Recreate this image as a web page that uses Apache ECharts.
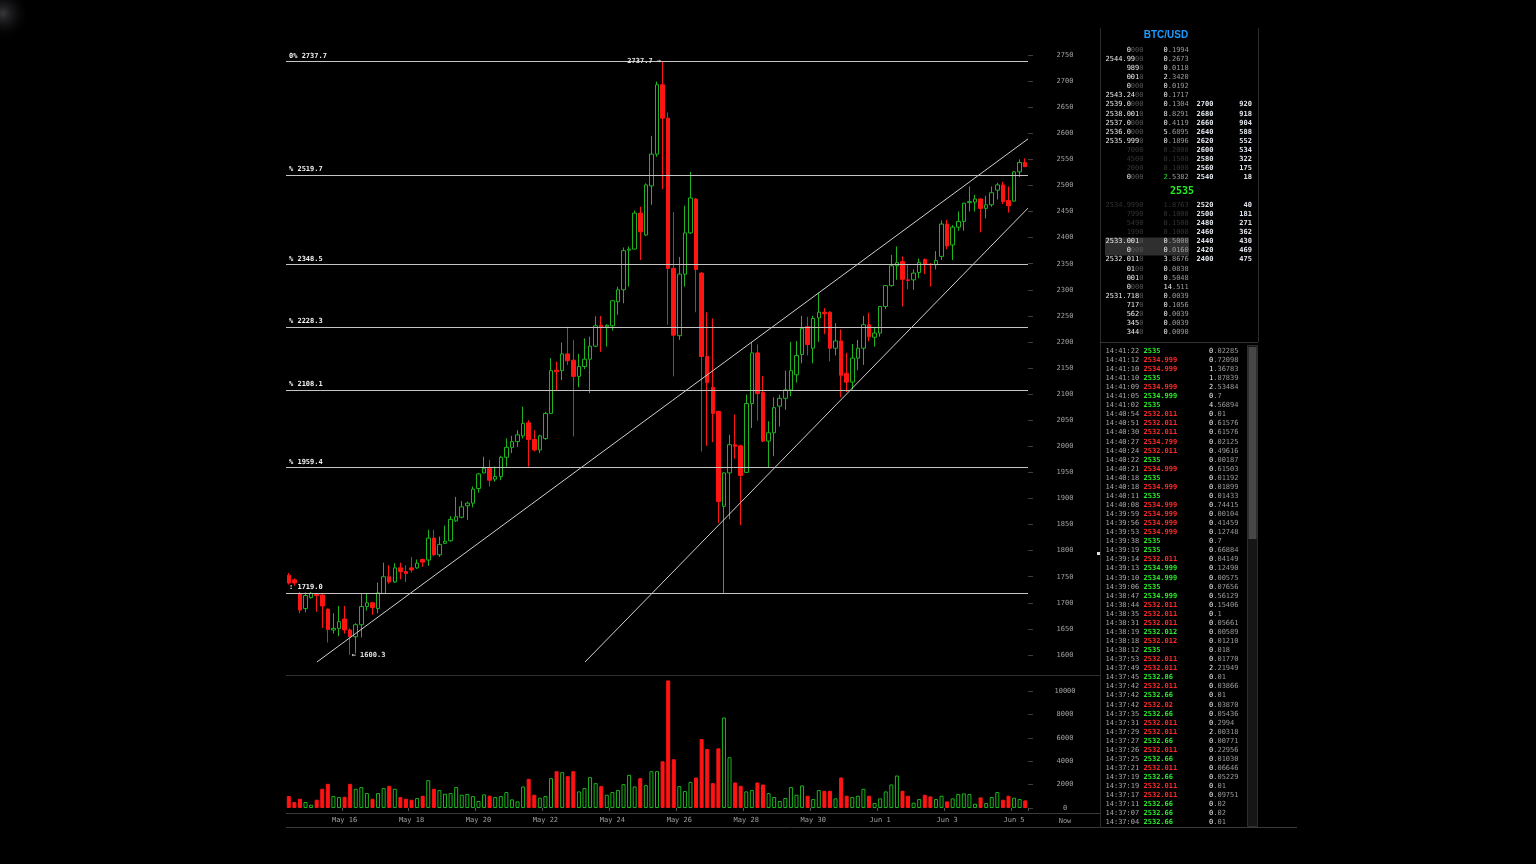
<!DOCTYPE html>
<html><head><meta charset="utf-8">
<script src="https://cdn.jsdelivr.net/npm/echarts@6/dist/echarts.min.js"></script>
<style>html,body{margin:0;padding:0;background:#000;width:1536px;height:864px;overflow:hidden}#c{width:1536px;height:864px}</style>
</head><body><div id="c"></div><script>
// ---- candle data (4h candles, BTC/USD) ----
const open = [1753,1744,1718,1689,1710,1717,1715,1688,1648,1651,
 1669,1648,1635,1658,1693,1700,1689,1718,1750,1740,
 1767,1760,1767,1767,1783,1782,1824,1792,1814,1819,
 1857,1864,1886,1891,1919,1949,1958,1937,1942,1979,
 1998,2009,2020,2045,2013,1993,2015,2063,2146,2145,
 2177,2165,2134,2153,2167,2192,2232,2229,2231,2277,
 2300,2376,2378,2447,2405,2499,2560,2693,2629,2341,
 2212,2330,2409,2474,2332,2172,2113,2067,1885,1949,
 2003,2001,1950,2082,2179,2103,2010,2026,2077,2092,
 2108,2137,2176,2229,2188,2246,2257,2257,2188,2202,
 2140,2123,2169,2188,2233,2209,2217,2268,2308,2346,
 2354,2319,2319,2333,2358,2349,2348,2364,2426,2386,
 2420,2431,2467,2468,2474,2456,2463,2491,2501,2471,
 2470,2526,2544];
const close = [1738,1738,1686,1714,1718,1714,1694,1649,1651,1664,
 1648,1635,1658,1693,1700,1691,1719,1750,1740,1767,
 1760,1756,1763,1776,1778,1824,1792,1812,1818,1860,
 1865,1884,1891,1918,1947,1958,1935,1942,1979,1998,
 2009,2022,2044,2013,1993,2020,2063,2145,2143,2177,
 2164,2134,2153,2167,2192,2231,2229,2232,2279,2300,
 2375,2378,2447,2411,2501,2560,2693,2629,2341,2213,
 2330,2409,2476,2339,2172,2122,2063,1894,1949,2003,
 2000,1944,2082,2179,2101,2010,2026,2074,2092,2108,
 2145,2174,2226,2195,2245,2257,2254,2188,2202,2136,
 2123,2169,2188,2233,2210,2217,2268,2308,2346,2352,
 2320,2318,2332,2352,2349,2348,2356,2426,2384,2420,
 2431,2466,2469,2474,2456,2463,2486,2501,2469,2461,
 2526,2544,2536];
const low = [1735,1733,1680,1682,1708,1683,1652,1624,1641,1636,
 1641,1600.3,1603,1634,1685,1677,1680,1717,1737,1738,
 1745,1740,1758,1765,1769,1771,1790,1788,1813,1817,
 1855,1862,1859,1883,1911,1948,1923,1932,1935,1961,
 1987,1999,2015,1961,1990,1987,2012,2062,2107,2127,
 2156,2019,2113,2148,2102,2190,2181,2191,2222,2252,
 2274,2306,2378,2357,2403,2463,2555,2493,2233,2134,
 2204,2306,2407,2257,1990,2001,2008,1853,1719.0,1860,
 1976,1849,1949,2035,2049,2008,1960,1981,2038,2070,
 2096,2122,2159,2174,2159,2200,2215,2163,2174,2094,
 2104,2109,2146,2156,2201,2191,2210,2263,2306,2319,
 2268,2301,2300,2322,2330,2306,2339,2357,2378,2357,
 2413,2413,2450,2450,2410,2437,2459,2473,2464,2448,
 2469,2516,2535];
const high = [1757,1747,1721,1720,1721,1718,1717,1689,1680,1694,
 1694,1651,1661,1718,1718,1702,1739,1777,1772,1776,
 1777,1772,1788,1783,1785,1840,1840,1827,1848,1866,
 1903,1895,1894,1923,1949,1980,1974,1961,1982,2015,
 2020,2031,2076,2050,2031,2022,2066,2169,2162,2199,
 2229,2204,2177,2207,2210,2249,2250,2234,2280,2306,
 2381,2383,2452,2459,2504,2595,2699,2737.7,2640,2449,
 2363,2461,2526,2476,2334,2257,2245,2068,1950,2022,
 2061,2003,2099,2200,2195,2135,2048,2094,2099,2145,
 2200,2202,2250,2248,2250,2294,2265,2259,2236,2224,
 2179,2196,2204,2250,2256,2229,2269,2309,2367,2383,
 2364,2348,2339,2360,2360,2351,2374,2433,2434,2424,
 2450,2467,2498,2482,2475,2480,2498,2505,2507,2498,
 2528,2550,2552];
const volume = [1020,510,793,510,283,708,1643,2068,1020,935,
 963,2068,1643,1785,1275,793,1275,1700,1898,1643,
 935,793,708,850,1048,2380,1643,1530,1218,1275,
 1785,1133,1190,1020,595,1162,1048,935,1020,1360,
 737,567,1841,2493,1133,878,1020,2550,3145,3060,
 2720,3145,1417,1700,2635,2125,1870,1133,1360,1530,
 2040,2833,1841,2550,1955,3145,3145,3995,10907,4165,
 1870,1445,2238,2606,5893,5043,2125,5100,7734,4335,
 2181,1898,1417,1530,2181,2011,1275,935,595,850,
 1785,1133,1926,1048,765,1530,1473,1473,822,2606,
 1048,935,1048,1643,1048,425,822,1417,2011,2776,
 1473,1048,453,765,1133,992,765,1048,567,822,
 1190,1247,1190,368,907,425,935,1360,708,1048,
 878,765,652];
// first candle time (UTC) and candle step
const firstCandleUTC = Date.UTC(2017, 4, 14, 8);
const candleHours = 4;
const monthNames = ['Jan','Feb','Mar','Apr','May','Jun','Jul','Aug','Sep','Oct','Nov','Dec'];
const labelAnchorUTC = Date.UTC(2017, 4, 16); // x labels every 2 days from May 16
// axis ticks
const priceTicks = [1600,1650,1700,1750,1800,1850,1900,1950,2000,2050,2100,2150,2200,2250,2300,2350,2400,2450,2500,2550,2600,2650,2700,2750];
const volumeTicks = [0,2000,4000,6000,8000,10000];
// fibonacci levels
const fibValues = [2737.7, 2519.7, 2348.5, 2228.3, 2108.1, 1959.4, 1719.0];
const fibLabels = ['0% 2737.7', '% 2519.7', '% 2348.5', '% 2228.3', '% 2108.1', '% 1959.4', ': 1719.0'];
// trend lines [candle index, price]
const trendUpper = [[5.05, 1586.6], [132.5, 2589.2]];
const trendLower = [[53.1, 1586.6], [132.5, 2456.5]];
// order book
const askRows = [
 ['0','000','0.1994',0],['2544.99','00','0.2673',0],['989','0','0.0118',0],['001','0','2.3420',0],
 ['0','000','0.0192',0],['2543.24','00','0.1717',0],['2539.0','000','0.1304',0],['2538.001','0','8.8291',0],
 ['2537.0','000','0.4119',0],['2536.0','000','5.6895',0],['2535.999','0','0.1896',0],['','7000','0.2000',1],
 ['','4500','0.1500',1],['','2000','0.1000',1],['0','000','2.5382',2]];
const bidRows = [
 ['','2534.9990','1.8763',1],['','7990','0.1000',1],['','5490','0.1500',1],['','1990','0.1000',1],
 ['2533.001','0','0.5000',0],['0','000','0.0160',0],['2532.011','0','3.8676',0],['01','00','0.0838',0],
 ['001','0','0.5048',0],['0','000','14.511',0],['2531.718','0','0.0039',0],['717','0','0.1056',0],
 ['562','0','0.0039',0],['345','0','0.0039',0],['344','0','0.0090',0]];
const depthPrice = ['2700','2680','2660','2640','2620','2600','2580','2560','2540','2520','2500','2480','2460','2440','2420','2400'];
const depthCount = ['920','918','904','588','552','534','322','175','18','40','181','271','362','430','469','475'];
const lastPrice = '2535';
// trades: time, price, side (b = green, s = red), amount
const trades = [
 ['14:41:22','2535','b','0.02285'],['14:41:12','2534.999','s','0.72098'],['14:41:10','2534.999','s','1.36783'],
 ['14:41:10','2535','b','1.87839'],['14:41:09','2534.999','s','2.53484'],['14:41:05','2534.999','b','0.7'],
 ['14:41:02','2535','b','4.56894'],['14:40:54','2532.011','s','0.01'],['14:40:51','2532.011','s','0.61576'],
 ['14:40:30','2532.011','s','0.61576'],['14:40:27','2534.799','s','0.02125'],['14:40:24','2532.011','s','0.49616'],
 ['14:40:22','2535','b','0.00187'],['14:40:21','2534.999','s','0.61503'],['14:40:18','2535','b','0.01192'],
 ['14:40:18','2534.999','s','0.01899'],['14:40:11','2535','b','0.01433'],['14:40:08','2534.999','s','0.74415'],
 ['14:39:59','2534.999','s','0.00104'],['14:39:56','2534.999','s','0.41459'],['14:39:53','2534.999','s','0.12748'],
 ['14:39:38','2535','b','0.7'],['14:39:19','2535','b','0.66884'],['14:39:14','2532.011','s','0.04149'],
 ['14:39:13','2534.999','b','0.12490'],['14:39:10','2534.999','b','0.00575'],['14:39:06','2535','b','0.07656'],
 ['14:38:47','2534.999','b','0.56129'],['14:38:44','2532.011','s','0.15406'],['14:38:35','2532.011','s','0.1'],
 ['14:38:31','2532.011','s','0.05661'],['14:38:19','2532.012','b','0.00589'],['14:38:18','2532.012','s','0.01210'],
 ['14:38:12','2535','b','0.018'],['14:37:53','2532.011','s','0.01770'],['14:37:49','2532.011','s','2.21949'],
 ['14:37:45','2532.86','b','0.01'],['14:37:42','2532.011','s','0.03866'],['14:37:42','2532.66','b','0.01'],
 ['14:37:42','2532.02','s','0.03870'],['14:37:35','2532.66','b','0.05436'],['14:37:31','2532.011','s','0.2994'],
 ['14:37:29','2532.011','s','2.00318'],['14:37:27','2532.66','b','0.00771'],['14:37:26','2532.011','s','0.22956'],
 ['14:37:25','2532.66','b','0.01030'],['14:37:21','2532.011','s','0.06646'],['14:37:19','2532.66','b','0.05229'],
 ['14:37:19','2532.011','s','0.01'],['14:37:17','2532.011','s','0.09751'],['14:37:11','2532.66','b','0.02'],
 ['14:37:07','2532.66','b','0.02'],['14:37:04','2532.66','b','0.01']];

// ---- build ----
const categories = open.map((_, i) => new Date(firstCandleUTC + i * candleHours * 3600e3).toISOString());
const isLabelDay = (v) => { const t = Date.parse(v); const d = new Date(t);
  return d.getUTCHours() === 0 && Math.round((t - labelAnchorUTC) / 86400e3) % 2 === 0; };
const GREEN = '#1db41d', RED = '#ff1414';
const MONO = '"DejaVu Sans Mono", monospace';
const F = '7px ' + MONO, FB = 'bold 7px ' + MONO;

const candleData = open.map((o, i) => [o, close[i], low[i], high[i]]);
const volData = volume.map((v, i) => ({ value: v, itemStyle: close[i] >= open[i]
  ? { color: '#000', borderColor: GREEN, borderWidth: 1 }
  : { color: RED, borderColor: RED, borderWidth: 1 } }));

const G = [];
function txt(x, y, text, fill, font, align, rich) {
  const st = { text: text, fill: fill, font: font, align: align || 'left', verticalAlign: 'middle',
    textAlign: align || 'left', textVerticalAlign: 'middle' };
  if (rich) st.rich = rich;
  G.push({ type: 'text', x: x, y: y, silent: true, z: 10, style: st });
}
function line(x1, y1, x2, y2, c) {
  G.push({ type: 'line', silent: true, z: 5, shape: { x1, y1, x2, y2 }, style: { stroke: c, lineWidth: 1 } });
}
function rect(x, y, w, h, fill, stroke) {
  G.push({ type: 'rect', silent: true, z: 4, shape: { x, y, width: w, height: h }, style: { fill: fill, stroke: stroke || null, lineWidth: 1 } });
}
const rich = {
  w: { fill: '#e8e8e8', font: F }, d: { fill: '#555', font: F }, f: { fill: '#333', font: F },
  g: { fill: '#9a9a9a', font: F }, gr: { fill: '#22dd22', font: F }
};
function amountRich(a, mode) {
  if (mode === 1) return '{f|' + a + '}';
  const k = a.indexOf('.');
  const ip = k < 0 ? a : a.slice(0, k), fp = k < 0 ? '' : a.slice(k);
  return '{' + (mode === 2 ? 'gr' : 'w') + '|' + ip + '}' + (fp ? '{g|' + fp + '}' : '');
}
function priceRich(b, d, mode) {
  if (mode === 1) return '{f|' + d + '}';
  return (b ? '{w|' + b + '}' : '') + '{d|' + d + '}';
}

// background glow top-left
G.push({ type: 'rect', silent: true, z: 1, shape: { x: 0, y: 0, width: 30, height: 90 },
  style: { fill: new echarts.graphic.RadialGradient(0.1, 0.15, 0.9, [{ offset: 0, color: 'rgba(80,80,85,0.7)' }, { offset: 0.5, color: 'rgba(40,40,45,0.35)' }, { offset: 1, color: 'rgba(0,0,0,0)' }]) } });

// panel structure
line(286, 675.5, 1100, 675.5, '#303030');
line(286, 813.5, 1100, 813.5, '#3a3a3a');
line(286, 827.5, 1297, 827.5, '#3a3a3a');
line(1100.5, 28, 1100.5, 828, '#2c2c2c');
line(1258.5, 28, 1258.5, 342, '#2c2c2c');
line(1100, 342.5, 1258, 342.5, '#333');
rect(1247.5, 345.5, 10, 481, '#161616', '#2e2e2e');
rect(1248.5, 347, 8, 192, '#474747');
rect(1097, 552, 3, 3, '#ddd');
txt(1065, 821, 'Now', '#9a9a9a', F, 'center');

// order book
txt(1166, 35, 'BTC/USD', '#1e9bff', 'bold 10px "Liberation Sans", Arial, sans-serif', 'center');
askRows.forEach((r, i) => {
  const y = 50 + i * 9.1;
  txt(1143.5, y, priceRich(r[0], r[1], r[3]), '#e8e8e8', F, 'right', rich);
  txt(1163.5, y, amountRich(r[2], r[3]), '#e8e8e8', F, 'left', rich);
});
txt(1182, 191.5, lastPrice, '#22ee22', 'bold 10px ' + MONO, 'center');
rect(1105, 237.5, 84, 18, '#2f2f2f');
bidRows.forEach((r, i) => {
  const y = 205 + i * 9.1;
  txt(1143.5, y, priceRich(r[0], r[1], r[3]), '#e8e8e8', F, 'right', rich);
  txt(1163.5, y, amountRich(r[2], r[3]), '#e8e8e8', F, 'left', rich);
});
depthPrice.forEach((p, i) => {
  const y = i < 9 ? 104.6 + i * 9.1 : 205 + (i - 9) * 9.1;
  txt(1196.5, y, p, '#e2e6ee', FB, 'left');
  txt(1252, y, depthCount[i], '#e2e6ee', FB, 'right');
});
// trades
trades.forEach((t, i) => {
  const y = 351 + i * 9.07;
  txt(1105.5, y, t[0], '#a8a8a8', F, 'left');
  txt(1143.5, y, t[1], t[2] === 'b' ? '#2bea2b' : '#ff2a2a', FB, 'left');
  txt(1209, y, amountRich(t[3], 0), '#e8e8e8', F, 'left', rich);
});

const axisLabelStyle = { color: '#a0a0a0', fontFamily: MONO, fontSize: 7 };
const option = {
  backgroundColor: '#000',
  animation: false,
  grid: [
    { left: 286, width: 742, top: 28.91, height: 652.17 },
    { left: 286, width: 742, top: 679.3, height: 128.7 }
  ],
  xAxis: [
    { type: 'category', gridIndex: 0, data: categories, boundaryGap: true, show: false },
    { type: 'category', gridIndex: 1, data: categories, boundaryGap: true, offset: 5,
      axisLine: { show: false },
      axisTick: { show: true, length: 3, interval: (i, v) => isLabelDay(v), lineStyle: { color: '#555' } },
      axisLabel: Object.assign({ interval: (i, v) => isLabelDay(v), margin: 4,
        formatter: (v) => { const d = new Date(v); return monthNames[d.getUTCMonth()] + ' ' + d.getUTCDate(); } }, axisLabelStyle),
      splitLine: { show: false } },
    { type: 'value', gridIndex: 0, min: -0.5, max: 132.5, show: false, axisLine: { onZero: false } }
  ],
  yAxis: [
    { type: 'value', gridIndex: 0, position: 'right', min: 1550, max: 2800,
      axisLine: { show: false, onZero: false }, splitLine: { show: false },
      axisTick: { show: true, length: 5, customValues: priceTicks, lineStyle: { color: '#3c3c3c' } },
      axisLabel: Object.assign({ customValues: priceTicks, align: 'center', margin: 37, formatter: (v) => String(v) }, axisLabelStyle) },
    { type: 'value', gridIndex: 1, position: 'right', min: 0, max: 11000,
      axisLine: { show: false, onZero: false }, splitLine: { show: false },
      axisTick: { show: true, length: 5, customValues: volumeTicks, lineStyle: { color: '#3c3c3c' } },
      axisLabel: Object.assign({ customValues: volumeTicks, align: 'center', margin: 37, formatter: (v) => String(v) }, axisLabelStyle) }
  ],
  series: [
    { type: 'candlestick', xAxisIndex: 0, yAxisIndex: 0, data: candleData, barWidth: 4,
      itemStyle: { color: '#000', color0: RED, borderColor: GREEN, borderColor0: RED, borderWidth: 1 },
      markLine: { silent: true, symbol: ['none', 'none'], animation: false,
        lineStyle: { color: '#c4c4c4', width: 1, type: 'solid' },
        label: { show: true, position: 'insideStartTop', formatter: (p) => p.name, color: '#f0f0f0',
          fontFamily: MONO, fontSize: 7, fontWeight: 'bold', distance: [3, 2] },
        emphasis: { disabled: true },
        data: fibValues.map((v, i) => ({ name: fibLabels[i], yAxis: v })) },
      markPoint: { silent: true, symbol: 'circle', symbolSize: 1, itemStyle: { color: 'rgba(0,0,0,0)' },
        label: { show: true, color: '#e0e0e0', fontFamily: MONO, fontSize: 7, fontWeight: 'bold' },
        data: [
          { coord: [categories[high.indexOf(Math.max(...high))], Math.max(...high)],
            label: { position: 'left', distance: 1, formatter: Math.max(...high).toFixed(1) + ' \u2192' } },
          { coord: [categories[low.indexOf(Math.min(...low))], Math.min(...low)],
            label: { position: 'right', distance: 1, formatter: '\u2190 ' + Math.min(...low).toFixed(1) } }
        ] } },
    { type: 'bar', xAxisIndex: 1, yAxisIndex: 1, data: volData, barWidth: 4 },
    { type: 'line', xAxisIndex: 2, yAxisIndex: 0, data: trendUpper, symbol: 'none', silent: true,
      lineStyle: { color: '#d0d0d0', width: 1 } },
    { type: 'line', xAxisIndex: 2, yAxisIndex: 0, data: trendLower, symbol: 'none', silent: true,
      lineStyle: { color: '#d0d0d0', width: 1 } }
  ],
  graphic: { elements: G }
};
const chart = echarts.init(document.getElementById('c'), null, { renderer: 'canvas' });
chart.setOption(option);
</script></body></html>
